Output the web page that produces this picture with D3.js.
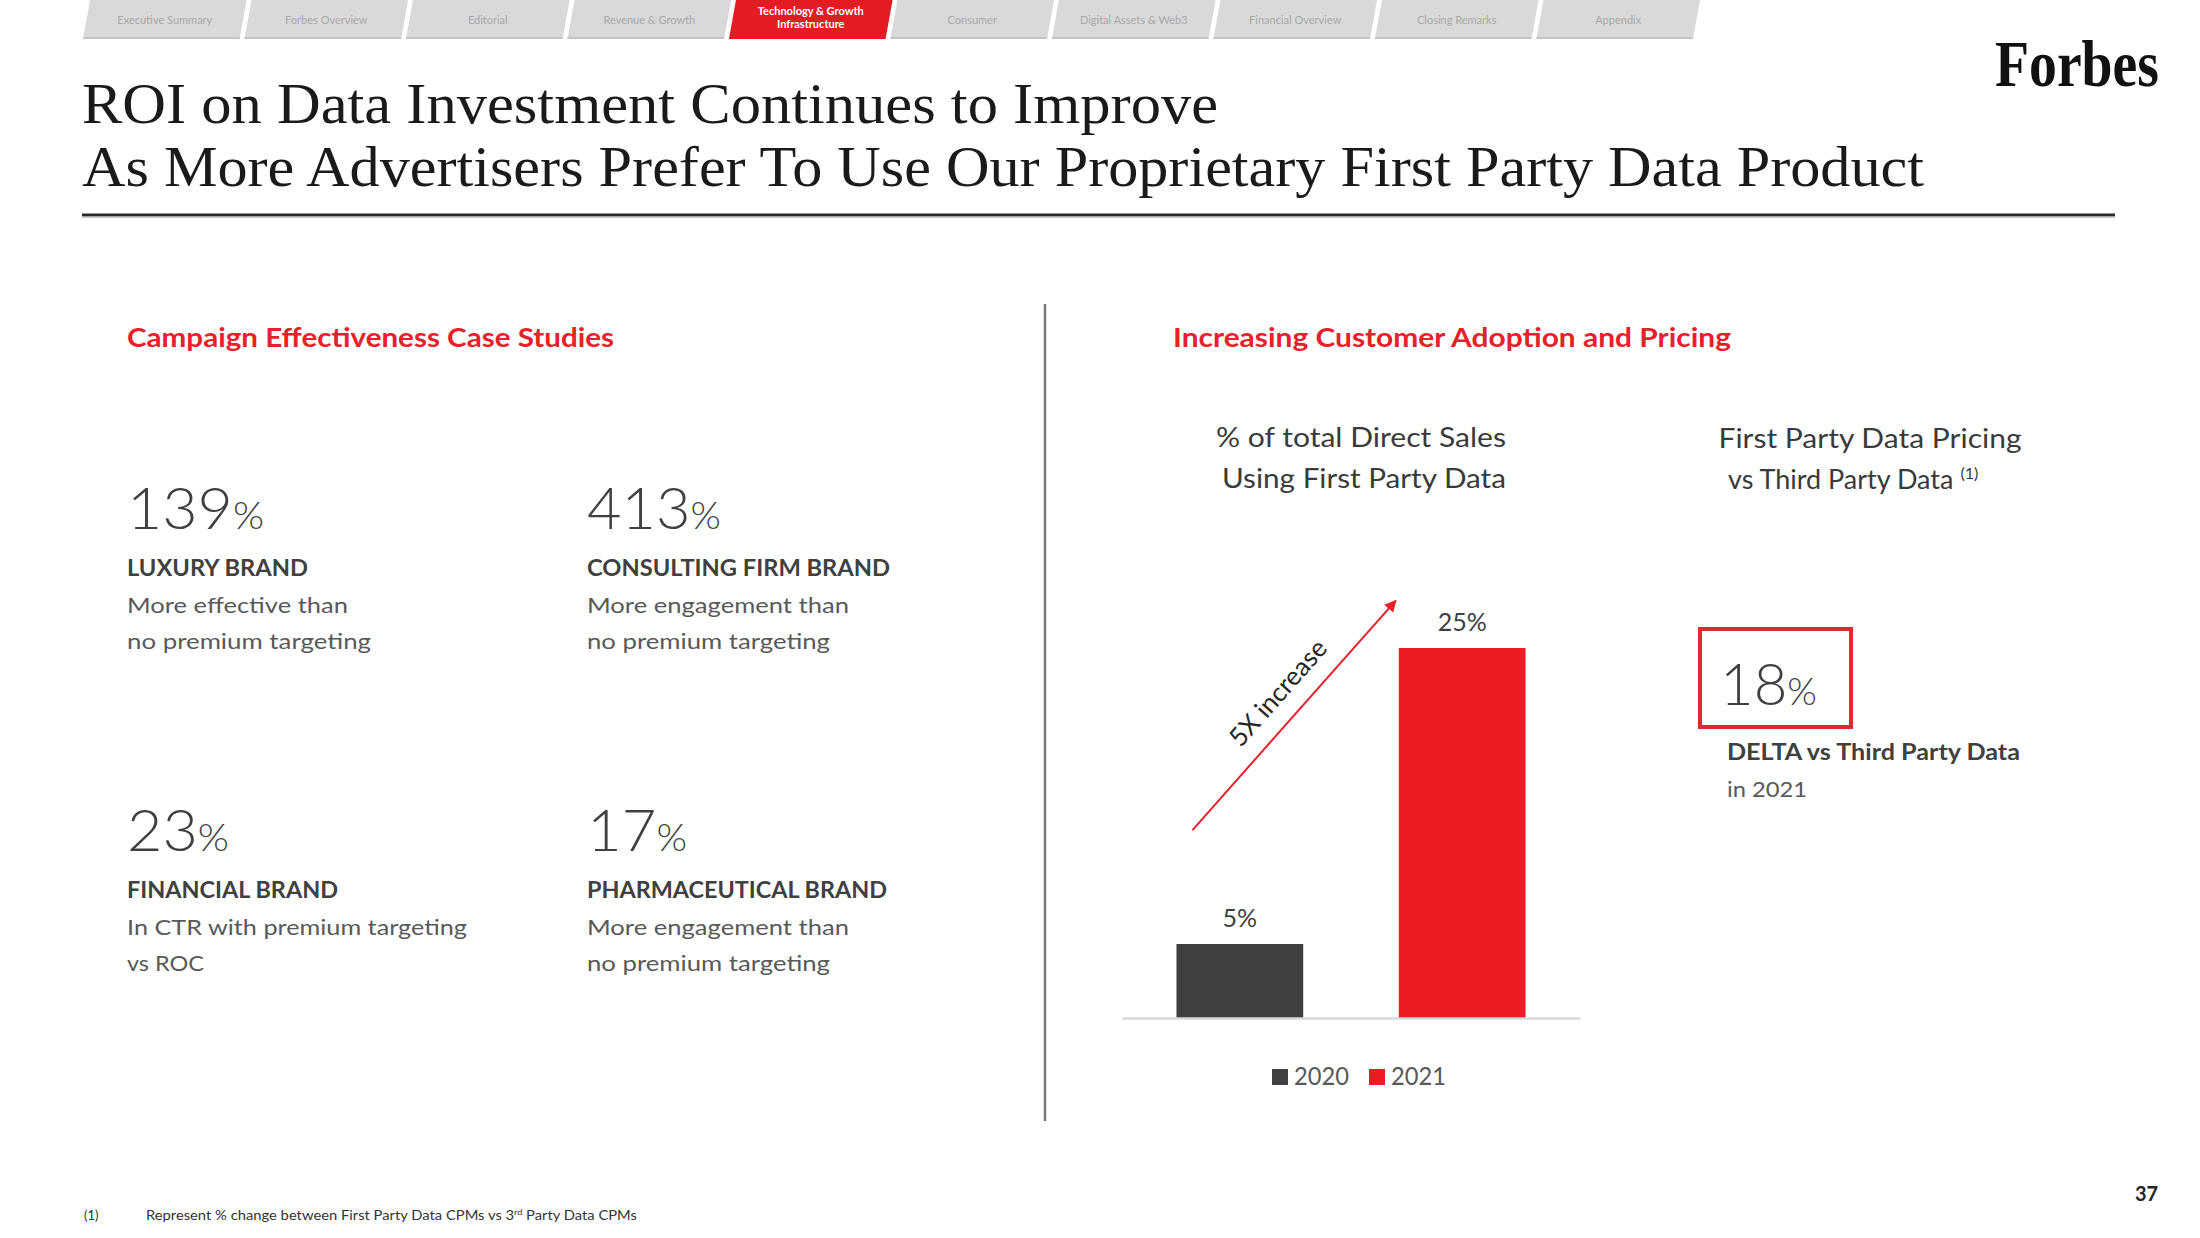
<!DOCTYPE html>
<html><head><meta charset="utf-8">
<script src="https://cdn.jsdelivr.net/npm/d3@7"></script>
<style>html,body{margin:0;padding:0;background:#fff;overflow:hidden} svg{display:block}</style>
</head><body>
<script>
// ---------------- DATA ----------------
const navTabs = ["Executive Summary","Forbes Overview","Editorial","Revenue & Growth","Technology & Growth|Infrastructure","Consumer","Digital Assets & Web3","Financial Overview","Closing Remarks","Appendix"];
const activeTab = 4;
const titleLines = ["ROI on Data Investment Continues to Improve","As More Advertisers Prefer To Use Our Proprietary First Party Data Product"];
const leftHeading = "Campaign Effectiveness Case Studies";
const rightHeading = "Increasing Customer Adoption and Pricing";
const caseValues = [139, 413, 23, 17];
const caseBrands = ["LUXURY BRAND","CONSULTING FIRM BRAND","FINANCIAL BRAND","PHARMACEUTICAL BRAND"];
const caseLine1 = ["More effective than","More engagement than","In CTR with premium targeting","More engagement than"];
const caseLine2 = ["no premium targeting","no premium targeting","vs ROC","no premium targeting"];
const years = ["2020","2021"];
const shareValues = [5, 25];
const chartTitle = ["% of total Direct Sales","Using First Party Data"];
const annotation = "5X increase";
const pricingTitle = ["First Party Data Pricing","vs Third Party Data"];
const pricingDelta = 18;
const pricingNote = ["DELTA vs Third Party Data","in 2021"];
const footnote = "Represent % change between First Party Data CPMs vs 3";
const pageNumber = "37";

// ---------------- LAYOUT ----------------
const W = 2200, H = 1238;
const RED = "#e8202a", DARK = "#404040", MID = "#595959";
const SANS = "Lato, 'Open Sans', sans-serif";
const SERIF = "'Liberation Serif', 'DejaVu Serif', serif";
const svg = d3.select("body").append("svg").attr("width", W).attr("height", H);
svg.append("rect").attr("width", W).attr("height", H).attr("fill", "#fff");

function fit(sel, w) { if (w) sel.attr("textLength", w).attr("lengthAdjust", "spacingAndGlyphs"); return sel; }
function label(g, x, y, str, o) {
  const t = g.append("text").attr("x", x).attr("y", y).text(str)
    .attr("font-family", o.family || SANS).attr("font-size", o.size)
    .attr("font-weight", o.weight || 400).attr("fill", o.fill || DARK)
    .attr("text-anchor", o.anchor || "start");
  return fit(t, o.w);
}

// ---- navigation tabs ----
const tabX = d3.scaleBand().domain(d3.range(navTabs.length)).range([83, 83 + 161 * navTabs.length]).paddingInner(0.03).paddingOuter(0);
const nav = svg.append("g");
navTabs.forEach((t, i) => {
  const x0 = tabX(i), w = tabX.bandwidth(), s = 7, h = 39;
  const active = i === activeTab;
  nav.append("path")
    .attr("d", `M${x0},${h} L${x0 + s},0 L${x0 + w + s},0 L${x0 + w},${h} Z`)
    .attr("fill", active ? "#e31b23" : "#d9d9d9");
  if (!active) nav.append("line").attr("x1", x0).attr("x2", x0 + w).attr("y1", h - 1).attr("y2", h - 1).attr("stroke", "#c4c4c4").attr("stroke-width", 2);
  const parts = t.split("|");
  const cx = x0 + w / 2 + s / 2;
  if (parts.length === 1) {
    label(nav, cx, 24, parts[0], {size: 11, fill: "#a8a8a8", anchor: "middle"});
  } else {
    parts.forEach((p, k) => label(nav, cx, 15 + k * 13, p, {size: 11, weight: 700, fill: "#fff", anchor: "middle"}));
  }
});

// ---- title ----
const titleW = [1136, 1842], titleY = [123, 186];
titleLines.forEach((ln, i) => {
  label(svg, 82, titleY[i], ln, {family: SERIF, size: 56, fill: "#1a1a1a", w: titleW[i]});
});
svg.append("line").attr("x1", 82).attr("x2", 2115).attr("y1", 215).attr("y2", 215).attr("stroke", "#2b2b2b").attr("stroke-width", 3);
svg.append("line").attr("x1", 82).attr("x2", 2115).attr("y1", 217.5).attr("y2", 217.5).attr("stroke", "#d0d0d0").attr("stroke-width", 1.5);
label(svg, 1995, 86, "Forbes", {family: SERIF, size: 66, weight: 700, fill: "#111", w: 164});

// ---- divider ----
svg.append("line").attr("x1", 1045).attr("x2", 1045).attr("y1", 304).attr("y2", 1121).attr("stroke", "#7a7a7a").attr("stroke-width", 2.5);

// ---- left panel ----
label(svg, 127, 347, leftHeading, {size: 27, weight: 700, fill: RED, w: 487});
const colX = [127, 587], rowY = [529, 851];
const numW = [137, 134, 102, 100];
const brandW = [181, 303, 211, 300];
const l1W = [221, 262, 340, 262];
const l2W = [244, 243, 77, 243];
caseValues.forEach((v, i) => {
  const x = colX[i % 2], y = rowY[Math.floor(i / 2)];
  const t = svg.append("text").attr("x", x).attr("y", y).attr("font-family", SANS).attr("fill", DARK);
  t.append("tspan").attr("font-size", 58).attr("font-weight", 300).text(v);
  t.append("tspan").attr("font-size", 38).attr("font-weight", 300).text("%");
  fit(t, numW[i]);
  label(svg, x, y + 47, caseBrands[i], {size: 22, weight: 700, fill: DARK, w: brandW[i]});
  label(svg, x, y + 84, caseLine1[i], {size: 22, fill: MID, w: l1W[i]});
  label(svg, x, y + 120, caseLine2[i], {size: 22, fill: MID, w: l2W[i]});
});

// ---- right panel ----
label(svg, 1173, 347, rightHeading, {size: 27, weight: 700, fill: RED, w: 558});
label(svg, 1361, 447, chartTitle[0], {size: 27, fill: "#3a3a3a", anchor: "middle", w: 290});
label(svg, 1364, 488, chartTitle[1], {size: 27, fill: "#3a3a3a", anchor: "middle", w: 284});

const x = d3.scaleBand().domain(years).range([1122, 1580]).paddingInner(0.43).paddingOuter(0.245);
const y = d3.scaleLinear().domain([0, 25]).range([1018, 648]);
const barColor = d3.scaleOrdinal().domain(years).range([DARK, "#ed1c24"]);

const chart = svg.append("g");
chart.selectAll("rect.bar").data(years).join("rect").attr("class", "bar")
  .attr("x", d => x(d)).attr("width", x.bandwidth())
  .attr("y", (d, i) => y(shareValues[i])).attr("height", (d, i) => y(0) - y(shareValues[i]))
  .attr("fill", d => barColor(d));
const axis = chart.append("g").attr("transform", `translate(0,${y(0)})`)
  .call(d3.axisBottom(x).tickSize(0).tickSizeOuter(0).tickFormat(""));
axis.select(".domain").attr("stroke", "#d9d9d9").attr("stroke-width", 2.5);
chart.selectAll("text.val").data(years).join("text").attr("class", "val")
  .attr("x", d => x(d) + x.bandwidth() / 2).attr("y", (d, i) => y(shareValues[i]) - 17)
  .attr("text-anchor", "middle").attr("font-family", SANS).attr("font-size", 25).attr("fill", DARK)
  .text((d, i) => shareValues[i] + "%");

// arrow annotation
const defs = svg.append("defs");
defs.append("marker").attr("id", "ah").attr("viewBox", "0 0 10 10").attr("refX", 9).attr("refY", 5)
  .attr("markerWidth", 6).attr("markerHeight", 6).attr("orient", "auto")
  .append("path").attr("d", "M0,0 L10,5 L0,10 Z").attr("fill", RED);
const a0 = [x("2020") + 16, y(12.7)], a1 = [x("2021") - 3, y(28.2)];
chart.append("line").attr("x1", a0[0]).attr("y1", a0[1]).attr("x2", a1[0]).attr("y2", a1[1])
  .attr("stroke", RED).attr("stroke-width", 2).attr("marker-end", "url(#ah)");
const ang = Math.atan2(a1[1] - a0[1], a1[0] - a0[0]);
const tt = 0.52, off = 18;
const tx = a0[0] + (a1[0] - a0[0]) * tt + Math.sin(ang) * off;
const ty = a0[1] + (a1[1] - a0[1]) * tt - Math.cos(ang) * off;
chart.append("text").attr("transform", `translate(${tx},${ty}) rotate(${ang * 180 / Math.PI})`)
  .attr("text-anchor", "middle").attr("font-family", SANS).attr("font-size", 26).attr("fill", "#262626")
  .text(annotation);

// legend
const leg = chart.append("g").attr("transform", "translate(1272,1069)");
years.forEach((yr, i) => {
  const g = leg.append("g").attr("transform", `translate(${i * 97},0)`);
  g.append("rect").attr("width", 16).attr("height", 16).attr("fill", barColor(yr));
  label(g, 22, 16, yr, {size: 25, fill: MID, w: 55});
});

// pricing block
label(svg, 1870, 448, pricingTitle[0], {size: 27, fill: "#3a3a3a", anchor: "middle", w: 303});
const pt = svg.append("text").attr("x", 1728).attr("y", 489).attr("font-family", SANS).attr("font-size", 27).attr("fill", "#3a3a3a");
pt.append("tspan").text(pricingTitle[1] + " ");
pt.append("tspan").attr("font-size", 16).attr("dy", -10).text("(1)");
svg.append("rect").attr("x", 1700).attr("y", 629).attr("width", 151).attr("height", 98)
  .attr("fill", "none").attr("stroke", "#dd2a30").attr("stroke-width", 4);
const dt = svg.append("text").attr("x", 1720).attr("y", 705).attr("font-family", SANS).attr("fill", DARK);
dt.append("tspan").attr("font-size", 58).attr("font-weight", 300).text(pricingDelta);
dt.append("tspan").attr("font-size", 38).attr("font-weight", 300).text("%");
fit(dt, 97);
label(svg, 1727, 760, pricingNote[0], {size: 22, weight: 700, fill: DARK, w: 293});
label(svg, 1727, 797, pricingNote[1], {size: 22, fill: MID, w: 80});

// footnote & page number
label(svg, 84, 1220, "(1)", {size: 13, fill: "#333"});
const ft = svg.append("text").attr("x", 146).attr("y", 1220).attr("font-family", SANS).attr("font-size", 13).attr("fill", "#333");
ft.append("tspan").text(footnote);
ft.append("tspan").attr("font-size", 8).attr("dy", -5).text("rd");
ft.append("tspan").attr("dy", 5).text(" Party Data CPMs");
fit(ft, 491);
label(svg, 2135, 1201, pageNumber, {size: 20, weight: 700, fill: "#262626"});
</script>
</body></html>
